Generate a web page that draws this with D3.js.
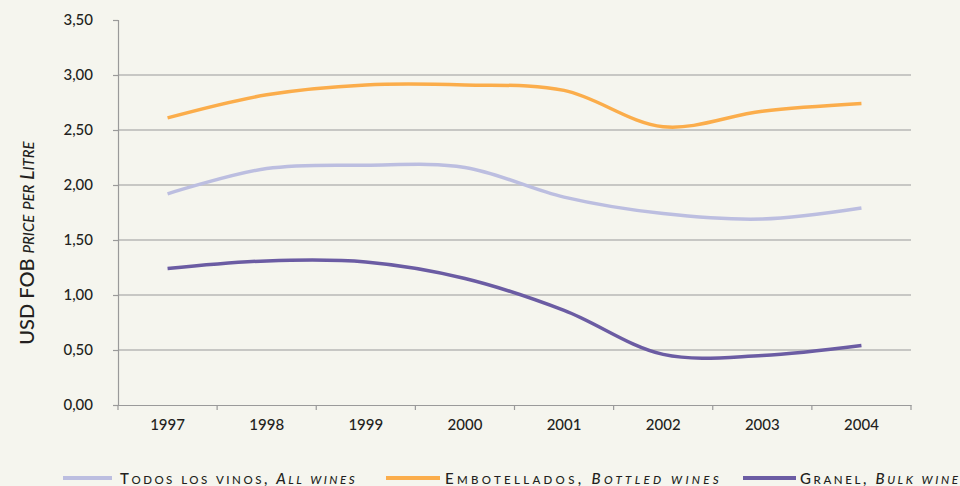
<!DOCTYPE html>
<html><head><meta charset="utf-8">
<script src="https://cdn.jsdelivr.net/npm/d3@7"></script>
<style>
html,body{margin:0;padding:0;background:#f5f5ee;}
svg{display:block;font-family:Lato,"Open Sans",sans-serif;}
</style></head>
<body><svg id="c" width="960" height="486"></svg>
<script>
const years = ["1997","1998","1999","2000","2001","2002","2003","2004"];
const allWines = [1.92, 2.15, 2.18, 2.16, 1.89, 1.74, 1.69, 1.79];
const bottled  = [2.61, 2.82, 2.91, 2.91, 2.86, 2.53, 2.67, 2.74];
const bulk     = [1.24, 1.31, 1.30, 1.15, 0.86, 0.46, 0.45, 0.54];
const yTicks = [0, 0.5, 1, 1.5, 2, 2.5, 3, 3.5];

const svg = d3.select("#c");
const L = 118, R = 911, T = 20, B = 405;
const x = d3.scaleBand().domain(years).range([L, R]);
const y = d3.scaleLinear().domain([0, 3.5]).range([B, T]);
const fmt = v => d3.format(".2f")(v).replace(".", ",");
const INK = "#231f20";
const W = 500;

// gridlines
svg.append("g").selectAll("line").data(yTicks.filter(v => v > 0 && v < 3.5)).join("line")
  .attr("x1", L).attr("x2", R).attr("y1", d => y(d)).attr("y2", d => y(d))
  .attr("stroke", "#9a9a9a").attr("stroke-width", 1.2);

// y axis
const ya = svg.append("g").attr("transform", `translate(${L},0)`)
  .call(d3.axisLeft(y).tickValues(yTicks).tickFormat(fmt).tickSize(5).tickPadding(20));
ya.select(".domain").attr("stroke", "#9a9a9a").attr("stroke-width", 1.2);
ya.selectAll(".tick line").attr("stroke", "#9a9a9a").attr("stroke-width", 1.2);
ya.selectAll("text").attr("font-size", 15).attr("font-weight", W).attr("fill", INK).attr("font-family", "Lato, sans-serif");

// x axis
const xa = svg.append("g").attr("transform", `translate(0,${B})`)
  .call(d3.axisBottom(x).tickSize(0).tickPadding(14));
xa.select(".domain").attr("stroke", "#9a9a9a").attr("stroke-width", 1.2);
xa.selectAll("text").attr("font-size", 15).attr("font-weight", W).attr("fill", INK).attr("font-family", "Lato, sans-serif");
const bounds = years.map(d => x(d)).concat([R]);
svg.append("g").selectAll("line").data(bounds).join("line")
  .attr("x1", d => d).attr("x2", d => d).attr("y1", B).attr("y2", B + 5)
  .attr("stroke", "#9a9a9a").attr("stroke-width", 1.2);

// lines
const series = [
  {name: "all", values: allWines, color: "#bcbee0"},
  {name: "bottled", values: bottled, color: "#fbad4b"},
  {name: "bulk", values: bulk, color: "#6b5ca3"}
];
const line = d3.line()
  .x((d, i) => x(years[i]) + x.bandwidth() / 2)
  .y(d => y(d))
  .curve(d3.curveCatmullRom.alpha(0.5));
svg.append("g").selectAll("path").data(series).join("path")
  .attr("d", d => line(d.values))
  .attr("fill", "none").attr("stroke", d => d.color).attr("stroke-width", 3.5);

// manual small caps helper
function smallCaps(textSel, str, big, small, italic) {
  const re = /([A-Z0-9,\s]+|[a-z]+)/g;
  let m;
  while ((m = re.exec(str)) !== null) {
    const s = m[0];
    const isLower = /[a-z]/.test(s);
    textSel.append("tspan")
      .attr("font-size", isLower ? small : big)
      .attr("font-style", italic ? "italic" : null)
      .text(s.toUpperCase());
  }
}

// y title
const yt = svg.append("text").attr("transform", "translate(34,243) rotate(-90)")
  .attr("text-anchor", "middle").attr("fill", INK).attr("font-weight", W)
  .attr("font-family", "Lato, sans-serif");
yt.append("tspan").attr("font-size", 20).text("USD FOB ");
smallCaps(yt, "price per Litre", 20, 15, true);

// legend
const legend = [
  {color: "#bcbee0", x1: 63, x2: 112, tx: 120, ls: 2.5, a: "Todos los vinos, ", b: "All wines"},
  {color: "#fbad4b", x1: 386, x2: 440, tx: 445, ls: 3.3, a: "Embotellados, ", b: "Bottled wines"},
  {color: "#6b5ca3", x1: 743, x2: 796, tx: 800, ls: 2.6, a: "Granel, ", b: "Bulk wine"}
];
const lg = svg.append("g");
legend.forEach(d => {
  lg.append("line").attr("x1", d.x1).attr("x2", d.x2).attr("y1", 478).attr("y2", 478)
    .attr("stroke", d.color).attr("stroke-width", 4);
  const t = lg.append("text").attr("x", d.tx).attr("y", 484)
    .attr("fill", INK).attr("letter-spacing", d.ls).attr("font-weight", W)
    .attr("font-family", "Lato, sans-serif");
  smallCaps(t, d.a, 15, 11.5, false);
  smallCaps(t, d.b, 15, 11.5, true);
});
</script></body></html>
